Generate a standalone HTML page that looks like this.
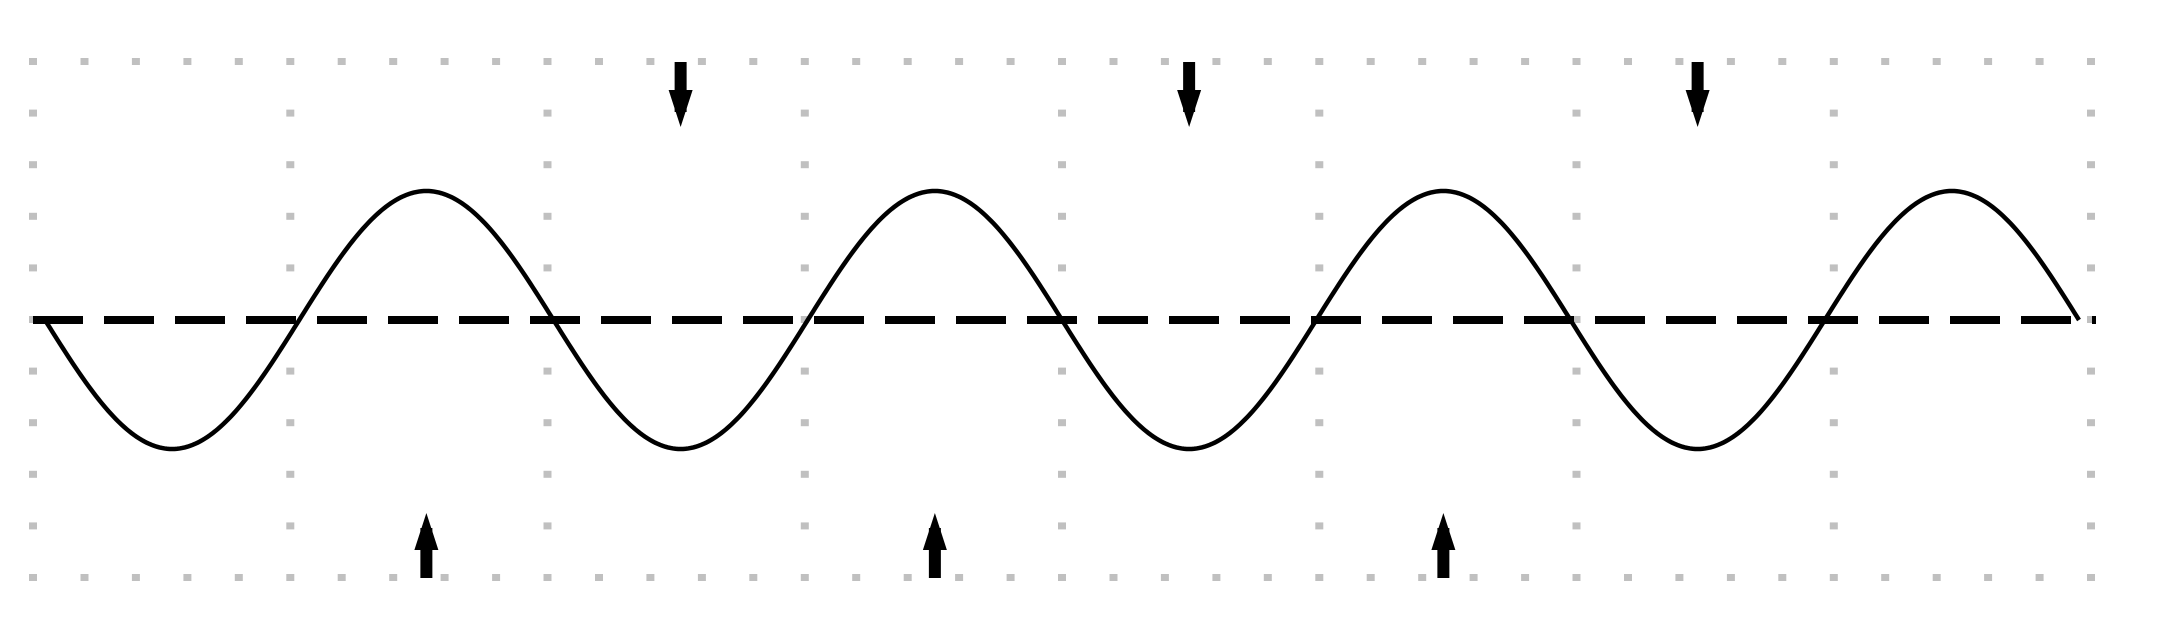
<!DOCTYPE html>
<html><head><meta charset="utf-8"><style>
html,body{margin:0;padding:0;background:#fff;}
svg{display:block;}
</style></head><body>
<svg id="chart" width="2167" height="625" viewBox="0 0 2167 625" xmlns="http://www.w3.org/2000/svg">
<g id="grid"></g>
<line id="baseline" x1="33" y1="320" x2="2096" y2="320" stroke="#000" stroke-width="8" stroke-dasharray="50 21"/>
<path id="wave" fill="none" stroke="#000" stroke-width="4.5"/>
<g id="arrows"></g>
</svg>
<script>
// data
const cycles = 4;            // full periods of the wave
const amplitude = 2.5;       // in grid rows
const upArrowPhases = [0.75, 1.75, 2.75];   // wave peaks (in cycles)
const downArrowPhases = [1.25, 2.25, 3.25]; // wave troughs (in cycles)
const gridCols = 40, gridRows = 10, majorEvery = 5;

// axes
const gx0 = 33, gx1 = 2091, gy0 = 62, gy1 = 578;
const wx0 = 45, wx1 = 2079, yMid = 320;
const rowH = (gy1 - gy0) / gridRows;
const colW = (gx1 - gx0) / gridCols;
const xPhase = p => wx0 + (wx1 - wx0) * p / cycles;
const yVal = v => yMid - v * rowH;
const NS = 'http://www.w3.org/2000/svg';

// grid dots
const grid = document.getElementById('grid');
for (let j = 0; j <= gridCols; j++) {
  for (let i = 0; i <= gridRows; i++) {
    const edgeRow = (i === 0 || i === gridRows);
    const major = (j % majorEvery === 0);
    if (!edgeRow && !major) continue;
    const r = document.createElementNS(NS, 'rect');
    
    
    r.setAttribute('x', (gx0 + j * colW - 4).toFixed(1));
    r.setAttribute('y', (gy0 + i * rowH - 4).toFixed(1));
    r.setAttribute('width', 8);
    r.setAttribute('height', 7);
    r.setAttribute('fill', '#c0c0c0');
    grid.appendChild(r);
  }
}

// wave
let d = '';
const N = 800;
for (let k = 0; k <= N; k++) {
  const p = cycles * k / N;
  const v = -amplitude * Math.sin(2 * Math.PI * p);
  d += (k ? 'L' : 'M') + xPhase(p).toFixed(2) + ' ' + yVal(v).toFixed(2);
}
document.getElementById('wave').setAttribute('d', d);

// arrows
const ag = document.getElementById('arrows');
function arrow(x, up) {
  const g = document.createElementNS(NS, 'g');
  
  
  const s = document.createElementNS(NS, 'rect');
  
  
  const h = document.createElementNS(NS, 'polygon');
  
  
  if (up) {
    s.setAttribute('x', x - 6); s.setAttribute('y', 528);
    s.setAttribute('width', 12); s.setAttribute('height', gy1 - 528);
    h.setAttribute('points', `${x-12},550 ${x+12},550 ${x},513`);
  } else {
    s.setAttribute('x', x - 6); s.setAttribute('y', gy0);
    s.setAttribute('width', 12); s.setAttribute('height', 50);
    h.setAttribute('points', `${x-12},90 ${x+12},90 ${x},127`);
  }
  s.setAttribute('fill', '#000'); h.setAttribute('fill', '#000');
  g.appendChild(s); g.appendChild(h);
  ag.appendChild(g);
}
upArrowPhases.forEach(p => arrow(xPhase(p), true));
downArrowPhases.forEach(p => arrow(xPhase(p), false));
</script>
</body></html>
